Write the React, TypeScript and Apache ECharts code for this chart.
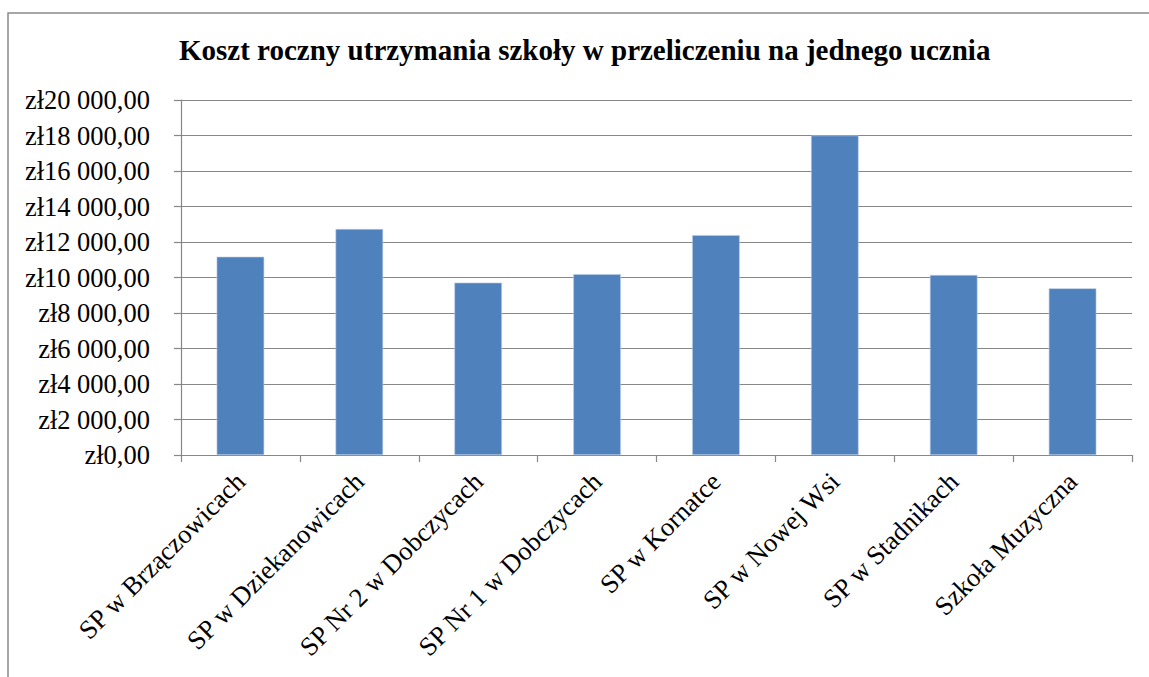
import React, { useEffect, useRef } from "react";
import * as echarts from "echarts";

const titleText = "Koszt roczny utrzymania szkoły w przeliczeniu na jednego ucznia";
const categories = [
  "SP w Brzączowicach",
  "SP w Dziekanowicach",
  "SP Nr 2 w Dobczycach",
  "SP Nr 1 w Dobczycach",
  "SP w Kornatce",
  "SP w Nowej Wsi",
  "SP w Stadnikach",
  "Szkoła Muzyczna",
];
const values = [11170, 12730, 9710, 10180, 12390, 18000, 10140, 9390];
const yMin = 0;
const yMax = 20000;
const yStep = 2000;

const fmt = (v: number) => {
  const s = Math.round(v).toString().replace(/\B(?=(\d{3})+(?!\d))/g, " ");
  return "zł" + s + ",00";
};

const FONT = '"Liberation Serif", "Times New Roman", serif';

export default function App() {
  const ref = useRef<HTMLDivElement>(null);
  useEffect(() => {
    if (!ref.current) return;
    const chart = echarts.init(ref.current, undefined, { renderer: "svg" });
    chart.setOption({
      animation: false,
      backgroundColor: "#ffffff",
      title: {
        text: titleText,
        left: 174,
        top: 30,
        textStyle: { fontFamily: FONT, fontSize: 29, fontWeight: "bold", color: "#000" },
      },
      graphic: [
        {
          type: "rect",
          shape: { x: 8, y: 13, width: 1200, height: 700 },
          style: { fill: "none", stroke: "#8a8a8a", lineWidth: 1.5 },
          silent: true,
        },
      ],
      grid: { left: 181, right: 17, top: 100, bottom: 222, containLabel: false },
      xAxis: {
        type: "category",
        data: categories,
        axisLine: { show: true, lineStyle: { color: "#878787", width: 1.2 } },
        axisTick: { show: true, alignWithLabel: false, length: 7, lineStyle: { color: "#878787", width: 1.2 } },
        axisLabel: {
          interval: 0,
          rotate: 45,
          margin: 22,
          fontFamily: FONT,
          fontSize: 26.5,
          color: "#000",
        },
        splitLine: { show: false },
      },
      yAxis: {
        type: "value",
        min: yMin,
        max: yMax,
        interval: yStep,
        axisLine: { show: true, lineStyle: { color: "#878787", width: 1.2 } },
        axisTick: { show: true, length: 7, lineStyle: { color: "#878787", width: 1.2 } },
        axisLabel: {
          margin: 31,
          fontFamily: FONT,
          fontSize: 26.5,
          color: "#000",
          formatter: (v: number) => fmt(v),
        },
        splitLine: { show: true, lineStyle: { color: "#878787", width: 1.2 } },
      },
      series: [
        {
          type: "bar",
          data: values,
          barWidth: "40%",
          itemStyle: { color: "#4F81BD", borderColor: "#b9cde5", borderWidth: 0.6 },
        },
      ],
    });
    return () => chart.dispose();
  }, []);
  return (
    <div
      ref={ref}
      style={{ position: "fixed", left: 0, top: 0, width: 1149, height: 677, background: "#fff" }}
    />
  );
}
